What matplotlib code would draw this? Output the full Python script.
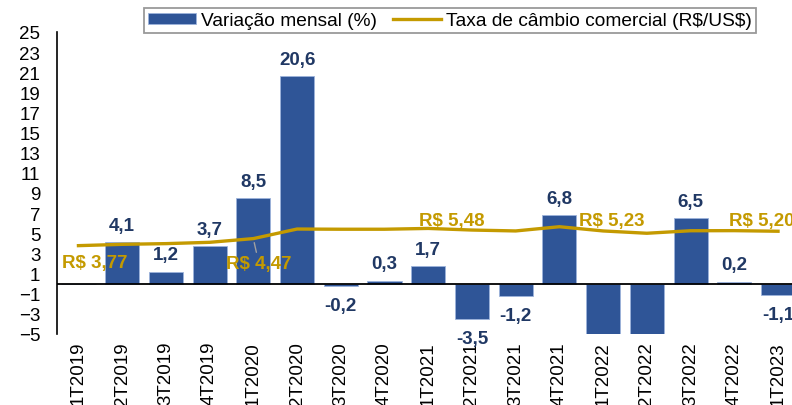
import matplotlib.pyplot as plt

plt.rcParams['font.family'] = ['Liberation Sans', 'DejaVu Sans']

# dados
trimestres = ['1T2019', '2T2019', '3T2019', '4T2019', '1T2020', '2T2020', '3T2020', '4T2020',
              '1T2021', '2T2021', '3T2021', '4T2021', '1T2022', '2T2022', '3T2022', '4T2022', '1T2023']
variacao = [None, 4.1, 1.2, 3.7, 8.5, 20.6, -0.2, 0.3, 1.7, -3.5, -1.2, 6.8, -7.9, -6.3, 6.5, 0.2, -1.1]
cambio = [3.77, 3.90, 3.97, 4.10, 4.47, 5.42, 5.40, 5.40, 5.48, 5.32, 5.23, 5.65, 5.23, 5.00, 5.25, 5.26, 5.20]
rotulos_cambio = {0: 'R$ 3,77', 4: 'R$ 4,47', 8: 'R$ 5,48', 12: 'R$ 5,23', 16: 'R$ 5,20'}

cor_barra = '#2F5597'
cor_linha = '#C49A00'
cor_rotulo = '#203864'

fig = plt.figure(figsize=(7.92, 4.06), dpi=100)
ax = fig.add_axes([0.072, 0.175, 0.9385, 0.744])

x = list(range(len(trimestres)))
alturas = [v if v is not None else 0 for v in variacao]
barras = ax.bar(x, alturas, width=0.78, color=cor_barra, edgecolor='#9DB3DB', linewidth=0.6,
                label='Variação mensal (%)', zorder=2)
linha, = ax.plot(x, cambio, color=cor_linha, lw=2.4, label='Taxa de câmbio comercial (R\\$/US\\$)', zorder=3)

# rótulos das barras
for i, v in enumerate(variacao):
    if v is None:
        continue
    texto = f'{v:.1f}'.replace('.', ',')
    if v >= 0:
        ax.annotate(texto, (i, v), xytext=(0, 12), textcoords='offset points', ha='center', va='center',
                    fontsize=13.5, fontweight='bold', color=cor_rotulo, annotation_clip=True)
    elif v >= -5:
        ax.annotate(texto, (i, v), xytext=(0, -14), textcoords='offset points', ha='center', va='center',
                    fontsize=13.5, fontweight='bold', color=cor_rotulo, annotation_clip=False)

# rótulos do câmbio
desloc = {0: (12, -12, 'center'), 4: (4, -18, 'center'), 8: (17, 5.5, 'center'),
          12: (6, 7.7, 'center'), 16: (-35.5, 8, 'left')}
for i, txt in rotulos_cambio.items():
    dx, dy, ha = desloc[i]
    props = dict(arrowstyle='-', color='#A0A0A0', lw=1, shrinkA=0, shrinkB=3) if i == 4 else None
    ax.annotate(txt, (i, cambio[i]), xytext=(dx, dy), textcoords='offset points', ha=ha, va='center',
                fontsize=13.5, fontweight='bold', color=cor_linha, arrowprops=props, zorder=4)

ax.axhline(0, color='black', lw=1.3, zorder=2)
ax.set_ylim(-5, 25)
ax.set_xlim(-0.49, 16.51)
ax.set_yticks(range(-5, 26, 2))
ax.set_xticks(x)
ax.set_xticklabels(trimestres, rotation=90)
ax.tick_params(axis='both', length=0, labelsize=13.5)
ax.tick_params(axis='x', pad=5)
ax.tick_params(axis='y', pad=12)
for s in ['top', 'right', 'bottom']:
    ax.spines[s].set_visible(False)
ax.spines['left'].set_linewidth(1.2)

leg = fig.legend(handles=[barras, linha], loc='center', bbox_to_anchor=(0.568, 0.947), ncol=2,
                 fontsize=13.8, frameon=True, fancybox=False, edgecolor='#808080',
                 handlelength=2.5, handleheight=0.5, handletextpad=0.3, columnspacing=0.8,
                 borderpad=0.2, borderaxespad=0)
leg.get_frame().set_linewidth(1.3)

fig.savefig('out.png', dpi=100)
